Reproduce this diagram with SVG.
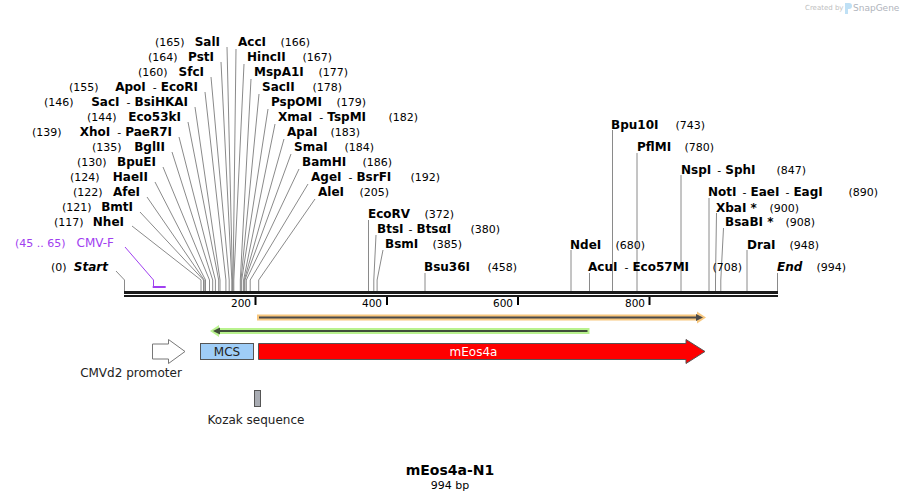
<svg xmlns="http://www.w3.org/2000/svg" width="902" height="501" viewBox="0 0 902 501">
<style>
text{font-family:"DejaVu Sans","Verdana",sans-serif}
.n{font-size:11px;fill:#000}
.b{font-size:12px;font-weight:bold;fill:#000}
.bi{font-size:12px;font-weight:bold;font-style:italic;fill:#000}
.r{font-weight:normal;font-size:11px}
.p{font-size:12px;fill:#a040f0}
.pn{font-size:11px;fill:#a040f0}
.t{font-size:10.5px;fill:#000}
.f{font-size:12px;fill:#222}
.l{stroke:#8a8a8a;stroke-width:1;fill:none}
</style>
<rect width="902" height="501" fill="#fff"/>
<g id="watermark">
<text x="805" y="10" style="font-size:7px;fill:#c0c0c0">Created by</text>
<path d="M845,3 h4 q3,0 3,3 q0,3 -3,3 h-1 v5 h-3 z" fill="#bfe0f5"/>
<text x="853" y="11" style="font-size:9px;fill:#b0b4bc">SnapGene</text>
</g>
<g id="connectors">
<!-- left cluster -->
<polyline class="l" points="227,47 232.5,280 232.5,291"/>
<polyline class="l" points="221,62 231.8,280 231.8,291"/>
<polyline class="l" points="211,77 229.2,280 229.2,291"/>
<polyline class="l" points="205,92 225.9,280 225.9,291"/>
<polyline class="l" points="195,107 220,280 220,291"/>
<polyline class="l" points="188,122 218.7,280 218.7,291"/>
<polyline class="l" points="179,137 215.4,280 215.4,291"/>
<polyline class="l" points="172,152 212.7,280 212.7,291"/>
<polyline class="l" points="163,167 209.5,280 209.5,291"/>
<polyline class="l" points="155,182 205.5,280 205.5,291"/>
<polyline class="l" points="147,197 204.2,280 204.2,291"/>
<polyline class="l" points="140,212 203.5,280 203.5,291"/>
<polyline class="l" points="132,226 201,280 201,291"/>
<!-- right cluster -->
<polyline class="l" points="236,49 233.1,280 233.1,291"/>
<polyline class="l" points="244,64 233.8,280 233.8,291"/>
<polyline class="l" points="251,79 240.3,280 240.3,291"/>
<polyline class="l" points="259,94 241,280 241,291"/>
<polyline class="l" points="268,109 241.7,280 241.7,291"/>
<polyline class="l" points="275,124 243.6,280 243.6,291"/>
<polyline class="l" points="284,139 244.3,280 244.3,291"/>
<polyline class="l" points="291,154 244.9,280 244.9,291"/>
<polyline class="l" points="299,169 246.3,280 246.3,291"/>
<polyline class="l" points="308,184 250.2,280 250.2,291"/>
<polyline class="l" points="315,199 258.7,280 258.7,291"/>
<!-- middle -->
<polyline class="l" points="368.5,220 368.5,291"/>
<polyline class="l" points="376,235 373.8,280 373.8,291"/>
<polyline class="l" points="383,250 377.1,280 377.1,291"/>
<polyline class="l" points="425,273 425,291"/>
<!-- right side -->
<polyline class="l" points="571,250 571,291"/>
<polyline class="l" points="589.5,273 589.5,291"/>
<polyline class="l" points="612.5,130 612.5,291"/>
<polyline class="l" points="637,153 637,291"/>
<polyline class="l" points="681,175 681,291"/>
<polyline class="l" points="709,198 709,291"/>
<polyline class="l" points="716.5,213 715.5,280 715.5,291"/>
<polyline class="l" points="723.5,228 720.8,280 720.8,291"/>
<polyline class="l" points="747,250 747,291"/>
<polyline class="l" points="777.5,273 777.5,291"/>
<!-- start -->
<polyline class="l" points="116,271 124.5,280 124.5,291"/>
<!-- CMV-F primer -->
<polyline points="125,247 153.5,280 153.5,287" fill="none" stroke="#a040f0" stroke-width="1"/>
<rect x="152.7" y="286" width="13" height="2" fill="#a040f0"/>
</g>
<g id="sequence">
<rect x="124" y="291" width="654" height="3" fill="#1a1a1a"/>
<rect x="124" y="295" width="654" height="2" fill="#1a1a1a"/>
<rect x="254.5" y="297" width="2" height="8" fill="#000"/>
<rect x="386" y="297" width="2" height="8" fill="#000"/>
<rect x="517" y="297" width="2" height="8" fill="#000"/>
<rect x="648.5" y="297" width="2" height="8" fill="#000"/>
<text class="t" x="251" y="307" text-anchor="end">200</text>
<text class="t" x="382" y="307" text-anchor="end">400</text>
<text class="t" x="513" y="307" text-anchor="end">600</text>
<text class="t" x="645" y="307" text-anchor="end">800</text>
</g>
<g id="label-start"><text class="n" x="51" y="271">(0)</text><text class="bi" x="108" y="271" text-anchor="end">Start</text></g>
<g id="label-cmvf"><text class="pn" x="15" y="247">(45 .. 65)</text><text class="p" x="114" y="247" text-anchor="end">CMV-F</text></g>
<g id="label-SalI"><text class="n" x="155" y="46">(165)</text><text class="b" x="220" y="46" text-anchor="end">SalI</text></g>
<g id="label-PstI"><text class="n" x="148" y="61">(164)</text><text class="b" x="214" y="61" text-anchor="end">PstI</text></g>
<g id="label-SfcI"><text class="n" x="138" y="76">(160)</text><text class="b" x="204" y="76" text-anchor="end">SfcI</text></g>
<g id="label-ApoI"><text class="n" x="69" y="91">(155)</text><text class="b" x="198" y="91" text-anchor="end">ApoI<tspan class="r" dx="7">-</tspan><tspan dx="4">EcoRI</tspan></text></g>
<g id="label-SacI"><text class="n" x="44" y="106">(146)</text><text class="b" x="188" y="106" text-anchor="end">SacI<tspan class="r" dx="7">-</tspan><tspan dx="4">BsiHKAI</tspan></text></g>
<g id="label-Eco53kI"><text class="n" x="87" y="121">(144)</text><text class="b" x="181" y="121" text-anchor="end">Eco53kI</text></g>
<g id="label-XhoI"><text class="n" x="32" y="136">(139)</text><text class="b" x="172" y="136" text-anchor="end">XhoI<tspan class="r" dx="7">-</tspan><tspan dx="4">PaeR7I</tspan></text></g>
<g id="label-BglII"><text class="n" x="92" y="151">(135)</text><text class="b" x="165" y="151" text-anchor="end">BglII</text></g>
<g id="label-BpuEI"><text class="n" x="77" y="166">(130)</text><text class="b" x="156" y="166" text-anchor="end">BpuEI</text></g>
<g id="label-HaeII"><text class="n" x="70" y="181">(124)</text><text class="b" x="148" y="181" text-anchor="end">HaeII</text></g>
<g id="label-AfeI"><text class="n" x="73" y="196">(122)</text><text class="b" x="140" y="196" text-anchor="end">AfeI</text></g>
<g id="label-BmtI"><text class="n" x="62" y="211">(121)</text><text class="b" x="133" y="211" text-anchor="end">BmtI</text></g>
<g id="label-NheI"><text class="n" x="54" y="226">(117)</text><text class="b" x="124" y="226" text-anchor="end">NheI</text></g>
<g id="label-AccI"><text class="b" x="238" y="46">AccI</text><text class="n" x="310" y="46" text-anchor="end">(166)</text></g>
<g id="label-HincII"><text class="b" x="247" y="61">HincII</text><text class="n" x="332" y="61" text-anchor="end">(167)</text></g>
<g id="label-MspA1I"><text class="b" x="254" y="76">MspA1I</text><text class="n" x="348" y="76" text-anchor="end">(177)</text></g>
<g id="label-SacII"><text class="b" x="262" y="91">SacII</text><text class="n" x="342" y="91" text-anchor="end">(178)</text></g>
<g id="label-PspOMI"><text class="b" x="271" y="106">PspOMI</text><text class="n" x="366" y="106" text-anchor="end">(179)</text></g>
<g id="label-XmaI"><text class="b" x="278" y="121">XmaI<tspan class="r" dx="7">-</tspan><tspan dx="4">TspMI</tspan></text><text class="n" x="418" y="121" text-anchor="end">(182)</text></g>
<g id="label-ApaI"><text class="b" x="287" y="136">ApaI</text><text class="n" x="360" y="136" text-anchor="end">(183)</text></g>
<g id="label-SmaI"><text class="b" x="294" y="151">SmaI</text><text class="n" x="374" y="151" text-anchor="end">(184)</text></g>
<g id="label-BamHI"><text class="b" x="302" y="166">BamHI</text><text class="n" x="392" y="166" text-anchor="end">(186)</text></g>
<g id="label-AgeI"><text class="b" x="311" y="181">AgeI<tspan class="r" dx="7">-</tspan><tspan dx="4">BsrFI</tspan></text><text class="n" x="440" y="181" text-anchor="end">(192)</text></g>
<g id="label-AleI"><text class="b" x="318" y="196">AleI</text><text class="n" x="389" y="196" text-anchor="end">(205)</text></g>
<g id="label-EcoRV"><text class="b" x="368" y="218">EcoRV</text><text class="n" x="454" y="218" text-anchor="end">(372)</text></g>
<g id="label-BtsI"><text class="b" x="377" y="233">BtsI<tspan class="r" dx="5">-</tspan><tspan dx="4">BtsαI</tspan></text><text class="n" x="500" y="233" text-anchor="end">(380)</text></g>
<g id="label-BsmI"><text class="b" x="385" y="248">BsmI</text><text class="n" x="462" y="248" text-anchor="end">(385)</text></g>
<g id="label-Bsu36I"><text class="b" x="424" y="271">Bsu36I</text><text class="n" x="517" y="271" text-anchor="end">(458)</text></g>
<g id="label-NdeI"><text class="b" x="570" y="249">NdeI</text><text class="n" x="645" y="249" text-anchor="end">(680)</text></g>
<g id="label-AcuI"><text class="b" x="588" y="271">AcuI<tspan class="r" dx="7">-</tspan><tspan dx="4">Eco57MI</tspan></text><text class="n" x="742" y="271" text-anchor="end">(708)</text></g>
<g id="label-Bpu10I"><text class="b" x="611" y="129">Bpu10I</text><text class="n" x="705" y="129" text-anchor="end">(743)</text></g>
<g id="label-PflMI"><text class="b" x="637" y="151">PflMI</text><text class="n" x="714" y="151" text-anchor="end">(780)</text></g>
<g id="label-NspI"><text class="b" x="681" y="174">NspI<tspan class="r" dx="6">-</tspan><tspan dx="4">SphI</tspan></text><text class="n" x="806" y="174" text-anchor="end">(847)</text></g>
<g id="label-NotI"><text class="b" x="708" y="196">NotI<tspan class="r" dx="6">-</tspan><tspan dx="4">EaeI</tspan><tspan class="r" dx="6">-</tspan><tspan dx="4">EagI</tspan></text><text class="n" x="878" y="196" text-anchor="end">(890)</text></g>
<g id="label-XbaI"><text class="b" x="716" y="212">XbaI *</text><text class="n" x="799" y="212" text-anchor="end">(900)</text></g>
<g id="label-BsaBI"><text class="b" x="725" y="226">BsaBI *</text><text class="n" x="815" y="226" text-anchor="end">(908)</text></g>
<g id="label-DraI"><text class="b" x="747" y="249">DraI</text><text class="n" x="819" y="249" text-anchor="end">(948)</text></g>
<g id="label-End"><text class="bi" x="777" y="271">End</text><text class="n" x="846" y="271" text-anchor="end">(994)</text></g>
<g id="orf-forward">
<line x1="257" y1="317.5" x2="700" y2="317.5" stroke="#f8c77e" stroke-width="6"/>
<polygon points="697,311.5 706,317.5 697,323.5" fill="#f8c77e"/>
<line x1="259" y1="317.5" x2="698" y2="317.5" stroke="#4a4a4a" stroke-width="2"/>
<polygon points="696,314 703,317.5 696,321" fill="#4a4a4a"/>
</g>
<g id="orf-reverse">
<line x1="216" y1="331" x2="589.5" y2="331" stroke="#b9f28e" stroke-width="6"/>
<polygon points="219,325 210,331 219,337" fill="#b9f28e"/>
<line x1="218" y1="331" x2="587.5" y2="331" stroke="#3f4d38" stroke-width="2"/>
<polygon points="220,327.5 213,331 220,334.5" fill="#3f4d38"/>
</g>
<g id="feature-promoter">
<polygon points="152.5,344 168.5,344 168.5,339.5 185,351.5 168.5,363.5 168.5,359 152.5,359" fill="#fff" stroke="#777" stroke-width="1"/>
<text class="f" x="131" y="377" text-anchor="middle">CMVd2 promoter</text>
</g>
<g id="feature-mcs">
<rect x="200.5" y="343.5" width="53" height="16" fill="#9fcdf7" stroke="#555" stroke-width="1"/>
<text class="f" x="227" y="356" text-anchor="middle">MCS</text>
</g>
<g id="feature-meos4a">
<polygon points="258.5,343.5 686,343.5 686,339.5 705,351.5 686,363.5 686,359.5 258.5,359.5" fill="#ff0000" stroke="#555" stroke-width="1"/>
<text x="473.5" y="356" text-anchor="middle" style="font-size:12px;fill:#fff">mEos4a</text>
</g>
<g id="feature-kozak">
<rect x="254.5" y="390.5" width="6" height="16" fill="#a9acb3" stroke="#555" stroke-width="1"/>
<text class="f" x="256" y="424" text-anchor="middle">Kozak sequence</text>
</g>
<g id="title">
<text x="450" y="475" text-anchor="middle" style="font-size:14px;font-weight:bold;fill:#000">mEos4a-N1</text>
<text x="450" y="489" text-anchor="middle" style="font-size:11px;fill:#000">994 bp</text>
</g>
</svg>
